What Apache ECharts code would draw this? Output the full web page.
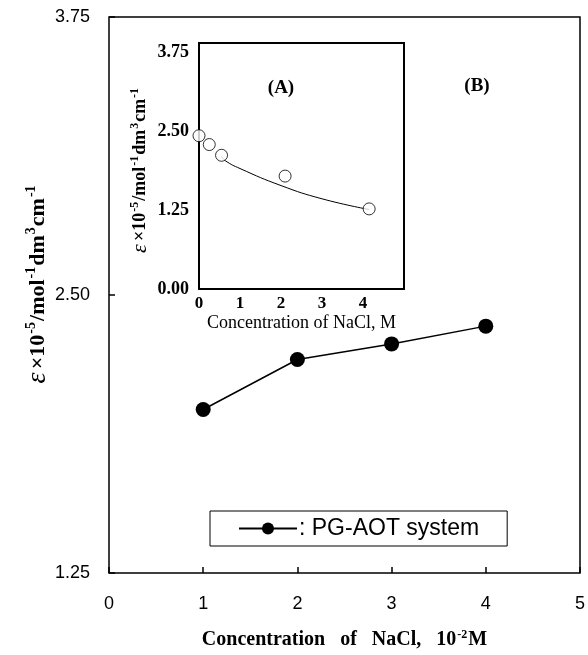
<!DOCTYPE html>
<html>
<head>
<meta charset="utf-8">
<script src="https://cdn.jsdelivr.net/npm/echarts@6/dist/echarts.min.js"></script>
<style>html,body{margin:0;padding:0;background:#fff}#c{width:588px;height:655px}</style>
</head>
<body>
<div id="c"></div>
<script>
// Main chart (B): PG-AOT system
var mainX = [1, 2, 3, 4];
var mainY = [1.985, 2.21, 2.28, 2.36];
var mainYTicks = [1.25, 2.50, 3.75];
var mainXTicks = [0, 1, 2, 3, 4, 5];
// Inset chart (A)
var insetX = [0, 0.25, 0.55, 2.1, 4.15];
var insetY = [2.43, 2.29, 2.12, 1.79, 1.27];
var curveX = [0.55, 0.65, 1, 2, 3, 4.15];
var curveY = [2.10, 2.03, 1.91, 1.64, 1.43, 1.26];
var insetYTicks = [0.00, 1.25, 2.50, 3.75];
var insetXTicks = [0, 1, 2, 3, 4];

var serif = '"Liberation Serif", "DejaVu Serif", serif';
var sans = '"Liberation Sans", Arial, sans-serif';

function pairs(xs, ys) { return xs.map(function (x, i) { return [x, ys[i]]; }); }

var chart = echarts.init(document.getElementById('c'), null, {renderer: 'canvas'});

var yTitleRich = function (size, sup, eps) {
  return {
    b: {fontFamily: serif, fontWeight: 'bold', fontSize: size, color: '#000'},
    e: {fontFamily: serif, fontWeight: 'normal', fontStyle: 'italic', fontSize: eps, color: '#000'},
    s: {fontFamily: serif, fontWeight: 'bold', fontSize: sup, color: '#000', verticalAlign: 'top', padding: [0, 1, size * 0.55, 1]}
  };
};
var yTitleText = '{e|ε} {b|×10}{s|-5}{b|/mol}{s|-1}{b|dm}{s|3}{b|cm}{s|-1}';

var option = {
  animation: false,
  backgroundColor: '#fff',
  grid: [
    {left: 109, top: 17, right: 7, bottom: 76, show: true, borderColor: '#000', borderWidth: 1.5, backgroundColor: 'transparent'},
    {left: 199, top: 43, right: 184, bottom: 366, show: true, borderColor: '#000', borderWidth: 2, backgroundColor: '#fff', z: 5}
  ],
  xAxis: [
    {
      type: 'value', gridIndex: 0, min: 0, max: 5, interval: 1,
      axisLine: {show: false},
      axisTick: {show: true, inside: true, length: 6, lineStyle: {color: '#000', width: 1.5}},
      splitLine: {show: false},
      axisLabel: {color: '#000', fontFamily: sans, fontSize: 18, margin: 22,
        formatter: function (v) { return mainXTicks.indexOf(v) >= 0 ? String(v) : ''; }},
      name: '{b|Concentration   of   NaCl,   10}{s|-2}{b|M}',
      nameLocation: 'middle', nameGap: 56,
      nameTextStyle: {rich: {
        b: {fontFamily: serif, fontWeight: 'bold', fontSize: 20, color: '#000'},
        s: {fontFamily: serif, fontWeight: 'bold', fontSize: 12, color: '#000', verticalAlign: 'top', padding: [0, 1, 10, 1]}
      }}
    },
    {
      type: 'value', gridIndex: 1, min: 0, max: 5, interval: 1,
      axisLine: {show: false},
      axisTick: {show: true, inside: true, length: 4, lineStyle: {color: '#000', width: 1}},
      splitLine: {show: false},
      axisLabel: {color: '#000', fontFamily: serif, fontWeight: 'bold', fontSize: 17, margin: 6, showMaxLabel: false,
        formatter: function (v) { return insetXTicks.indexOf(v) >= 0 ? String(v) : ''; }},
      name: 'Concentration of NaCl, M',
      nameLocation: 'middle', nameGap: 25,
      nameTextStyle: {fontFamily: serif, fontSize: 18, color: '#000'}
    }
  ],
  yAxis: [
    {
      type: 'value', gridIndex: 0, min: 1.25, max: 3.75, interval: 1.25,
      axisLine: {show: false},
      axisTick: {show: true, inside: true, length: 6, lineStyle: {color: '#000', width: 1.5}},
      splitLine: {show: false},
      axisLabel: {color: '#000', fontFamily: sans, fontSize: 18, margin: 19,
        formatter: function (v) { return v.toFixed(2); }}
    },
    {
      type: 'value', gridIndex: 1, min: 0, max: 3.9, interval: 1.25,
      axisLine: {show: false},
      axisTick: {show: true, inside: true, length: 5, lineStyle: {color: '#000', width: 1}},
      splitLine: {show: false},
      axisLabel: {color: '#000', fontFamily: serif, fontWeight: 'bold', fontSize: 18, margin: 10, showMaxLabel: false,
        formatter: function (v) { return insetYTicks.indexOf(v) >= 0 ? v.toFixed(2) : ''; }}
    }
  ],
  legend: {
    show: true,
    left: 210, top: 511,
    padding: [6, 28, 6, 28],
    borderColor: '#000', borderWidth: 1,
    itemWidth: 58, itemHeight: 15, itemGap: 0,
    formatter: function (n) { return ': ' + n; },
    textStyle: {fontFamily: sans, fontSize: 23, color: '#000', padding: [0, 0, 0, -3]},
    data: ['PG-AOT system']
  },
  series: [
    {
      name: 'PG-AOT system', type: 'line', xAxisIndex: 0, yAxisIndex: 0,
      data: pairs(mainX, mainY),
      symbol: 'circle', symbolSize: 15,
      lineStyle: {color: '#000', width: 1.5},
      itemStyle: {color: '#000'}
    },
    {
      name: 'fit', type: 'line', xAxisIndex: 1, yAxisIndex: 1,
      data: pairs(curveX, curveY), smooth: true, showSymbol: false, symbol: 'none',
      lineStyle: {color: '#000', width: 1}, z: 6
    },
    {
      name: 'A', type: 'scatter', xAxisIndex: 1, yAxisIndex: 1,
      data: pairs(insetX, insetY), symbol: 'circle', symbolSize: 12,
      itemStyle: {color: '#fff', borderColor: '#000', borderWidth: 1}, z: 7
    }
  ],
  graphic: [
    {type: 'text', x: 38, y: 284, rotation: Math.PI / 2, z: 10,
      style: {text: yTitleText, rich: yTitleRich(22, 14, 28), align: 'center', verticalAlign: 'middle'}},
    {type: 'text', x: 140, y: 170, rotation: Math.PI / 2, z: 10,
      style: {text: yTitleText, rich: yTitleRich(18, 12, 22), align: 'center', verticalAlign: 'middle'}},
    {type: 'text', x: 281, y: 88, z: 10,
      style: {text: '(A)', fontFamily: serif, fontWeight: 'bold', fontSize: 19, fill: '#000', align: 'center', verticalAlign: 'middle'}},
    {type: 'text', x: 477, y: 86, z: 10,
      style: {text: '(B)', fontFamily: serif, fontWeight: 'bold', fontSize: 19, fill: '#000', align: 'center', verticalAlign: 'middle'}}
  ]
};
chart.setOption(option);
</script>
</body>
</html>
